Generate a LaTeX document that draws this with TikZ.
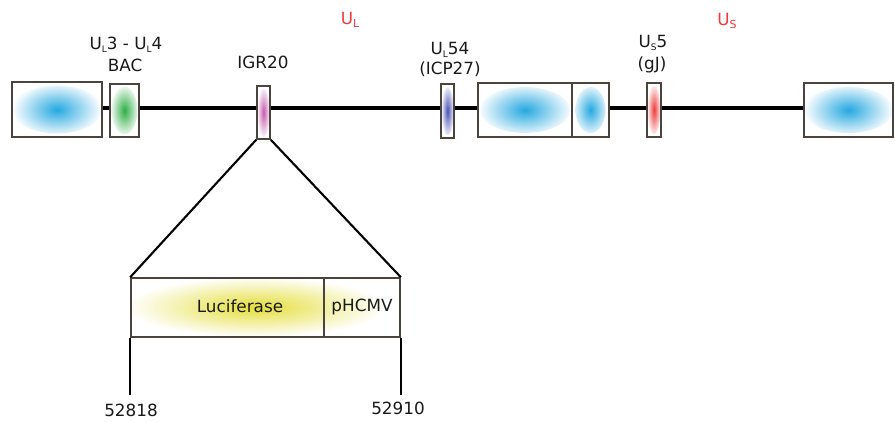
\documentclass[tikz,border=0pt]{standalone}
\usepackage{fontspec}
\setmainfont{DejaVu Sans}
\usetikzlibrary{positioning,backgrounds}
\definecolor{Frame}{HTML}{4A433E}
\definecolor{GeneBlue}{HTML}{25A8E0}
\definecolor{GeneGreen}{HTML}{2FAE45}
\definecolor{GenePink}{HTML}{C65BAE}
\definecolor{GeneViolet}{HTML}{4A4FB5}
\definecolor{GeneRed}{HTML}{EE3B3B}
\definecolor{LucYellow}{HTML}{E4DE3A}
\definecolor{RegionRed}{HTML}{EE3A3A}
\newcommand{\low}[2][9]{\raisebox{-0.35ex}{\fontsize{#1}{#1}\selectfont #2}}

\begin{document}
\begin{tikzpicture}[x=1pt, y=-1pt, every node/.style={font=\fontsize{16.8}{19}\selectfont, text=black!90}]
        \tikzstyle{gene}=[draw=Frame, line width=1.6pt, fill=white, inner sep=0pt]
        \tikzset{glow/.style n args={3}{path picture={\shade[inner color=#1, outer color=white] (path picture bounding box.center) ellipse (#2 and #3);}}}
        \tikzstyle{link}=[line width=2.1pt, black]
        \useasboundingbox (0,0) rectangle (895,421);
        % genome
        \node[gene, glow={GeneBlue}{45}{24}, minimum width=90, minimum height=55] (trl) at (57,109.5) {};
        \node[gene, glow={GeneGreen}{13}{24}, minimum width=29, minimum height=53] (bac) at (124.5,110.5) {};
        \node[gene, glow={GenePink}{6.5}{24}, minimum width=13, minimum height=53] (igr) at (263.5,112.5) {};
        \node[gene, glow={GeneViolet}{6.5}{24}, minimum width=13, minimum height=54] (icp) at (447.5,111) {};
        \node[gene, glow={GeneBlue}{45}{23}, minimum width=94, minimum height=54] (irl) at (525,110) {};
        \node[gene, glow={GeneBlue}{15}{23}, minimum width=37, minimum height=54] (irs) at (590.5,110) {};
        \node[gene, glow={GeneRed}{6.5}{24}, minimum width=14, minimum height=54] (gj) at (654,110) {};
        \node[gene, glow={GeneBlue}{45}{23}, minimum width=89, minimum height=54] (trs) at (848.5,110) {};
        \begin{scope}[on background layer]
          \draw[line width=4.5pt] (trl.east |- 0,108) -- (trs.west |- 0,108);
        \end{scope}
        % labels
        \node[text=RegionRed] (ul) at (350,20) {U\low[11]{L}};
        \node[text=RegionRed] (us) at (727,21) {U\low[11]{S}};
        \node (bacname) at (126,45) {U\low{L}3 - U\low{L}4};
        \node (bactxt) at (125,65) {BAC};
        \node (igrtxt) at (263,62) {IGR20};
        \node (icpname) at (450,50) {U\low{L}54};
        \node (icptxt) at (450,69) {(ICP27)};
        \node (gjname) at (653,43) {U\low{S}5};
        \node (gjtxt) at (652,65) {(gJ)};
        % insert
        \begin{scope}
          \clip (131,278) rectangle (400,337);
          \shade[inner color=LucYellow, outer color=white] (256,307) ellipse (130 and 30);
        \end{scope}
        \node[gene, fill=none, minimum width=193, minimum height=59] (luc) at (227.5,307.5) {};
        \node[gene, fill=none, minimum width=76, minimum height=59] (pcmv) at (362,307.5) {pHCMV};
        \node (luctxt) at (240,306) {Luciferase};
        \draw[link] (igr.south west) -- (luc.north west);
        \draw[link] (igr.south east) -- (pcmv.north east);
        \node (start) at (131,410) {52818};
        \node (stop) at (398,408) {52910};
        \coordinate (s1) at (131,395);
        \coordinate (s2) at (400,395);
        \draw[link] (luc.south west) -- (luc.south west |- s1);
        \draw[link] (pcmv.south east) -- (pcmv.south east |- s2);
      \end{tikzpicture}
\end{document}
